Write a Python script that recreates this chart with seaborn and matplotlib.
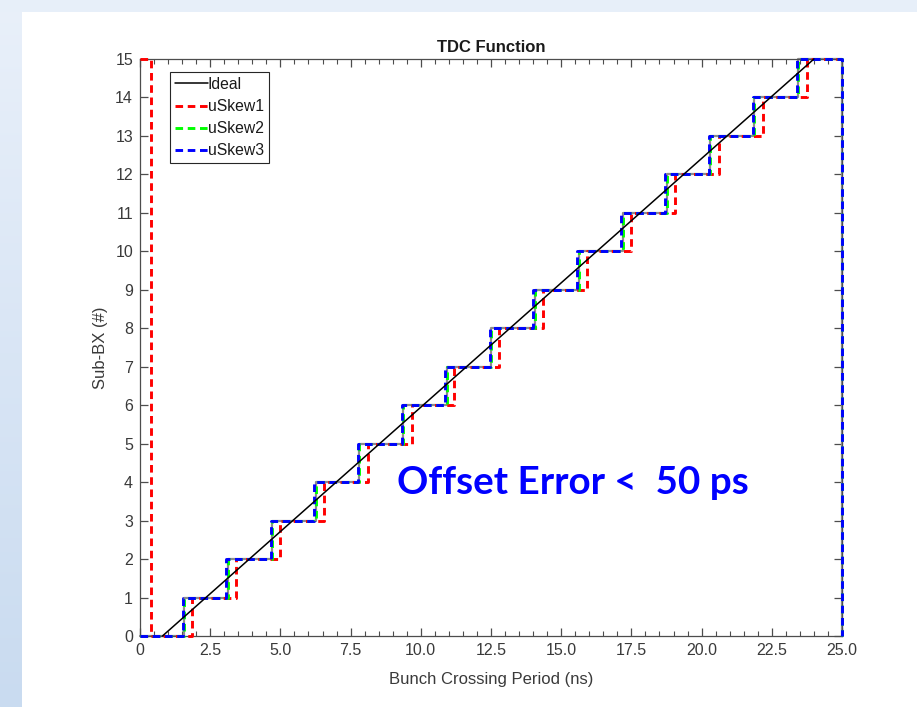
import numpy as np
import pandas as pd
import matplotlib
matplotlib.use("Agg")
import matplotlib.pyplot as plt
import seaborn as sns
from matplotlib.ticker import MultipleLocator, FixedLocator, FixedFormatter
from matplotlib.colors import LinearSegmentedColormap

# ---------------- data ----------------
levels = list(range(0, 16))  # Sub-BX codes 0..15
ideal_x = [0.80, 24.00]
ideal_y = [0, 15]
# riser positions (ns) where output goes to code 1..15
rise_ref = [1.56, 3.12, 4.69, 6.25, 7.81, 9.38, 10.94, 12.50, 14.06, 15.62, 17.19, 18.75, 20.31, 21.88, 23.44]
rise_skew1 = [1.84, 3.42, 5.00, 6.56, 8.12, 9.69, 11.20, 12.78, 14.35, 15.92, 17.48, 19.05, 20.62, 22.18, 23.74]
rise_skew2 = [1.56, 3.12, 4.69, 6.25, 7.81, 9.38, 10.93, 12.50, 14.06, 15.62, 17.19, 18.75, 20.31, 21.88, 23.42]
rise_skew3 = [1.52, 3.08, 4.65, 6.20, 7.76, 9.33, 10.87, 12.45, 14.01, 15.57, 17.14, 18.70, 20.26, 21.82, 23.40]
skew1_wrap_x = 0.39   # uSkew1 reads 15 before this, then 0
period_end = 25.0
xtick_vals = [0, 2.5, 5.0, 7.5, 10.0, 12.5, 15.0, 17.5, 20.0, 22.5, 25.0]
xtick_labels = ["0", "2.5", "5.0", "7.5", "10.0", "12.5", "15.0", "17.5", "20.0", "22.5", "25.0"]
ytick_vals = list(range(0, 16))

title_text = "TDC Function"
xlabel_text = "Bunch Crossing Period (ns)"
ylabel_text = "Sub-BX (#)"
note_text = "Offset Error <  50 ps"
legend_labels = ["Ideal", "uSkew1", "uSkew2", "uSkew3"]


def wrap_end(rises):
    x = [0.0] + rises + [period_end, period_end]
    y = [levels[0]] + levels[1:] + [levels[-1], levels[0]]
    return pd.DataFrame({"x": x, "y": y})


def wrap_start(rises):
    x = [0.0, skew1_wrap_x] + rises + [period_end]
    y = [levels[-1], levels[0]] + levels[1:] + [levels[-1]]
    return pd.DataFrame({"x": x, "y": y})


df_ref = wrap_end(rise_ref)
df_s1 = wrap_start(rise_skew1)
df_s2 = wrap_end(rise_skew2)
df_s3 = wrap_end(rise_skew3)
df_ideal = pd.DataFrame({"x": ideal_x, "y": ideal_y})

# ---------------- figure ----------------
sns.set_theme(style="white")
plt.rcParams["font.family"] = ["Liberation Sans", "DejaVu Sans"]

W, H, DPI = 917, 707, 100
fig = plt.figure(figsize=(W / DPI, H / DPI), dpi=DPI)
fig.patch.set_facecolor("#e7eff9")

# slide background: white panel + light blue gradient strip at left
bg = fig.add_axes([0, 0, 1, 1], zorder=-10)
bg.set_axis_off()
bg.add_patch(plt.Rectangle((0, 0), W, 12, color="#e7eff9", lw=0))
grad = np.linspace(0, 1, 256).reshape(-1, 1)
cm = LinearSegmentedColormap.from_list("g", ["#e9f0fa", "#c9dbf0"])
bg.imshow(grad, cmap=cm, extent=(0, 22, H, 0), aspect="auto", origin="upper")
bg.add_patch(plt.Rectangle((22, 12), W - 22, H - 12, color="white", lw=0))
bg.set_xlim(0, W)
bg.set_ylim(H, 0)

ax = fig.add_axes([140 / W, 1 - 636 / H, (842 - 140) / W, (636 - 59) / H])
ax.set_facecolor("white")

dash = (2.6, 1.6)
lw = 2.1
common = dict(estimator=None, sort=False, ax=ax, drawstyle="steps-post")
sns.lineplot(data=df_ref, x="x", y="y", color="#8c8c8c", linewidth=1.6, legend=False, **common)
sns.lineplot(data=df_s1, x="x", y="y", color="#ff0000", linewidth=lw, **common)
sns.lineplot(data=df_s2, x="x", y="y", color="#00ff00", linewidth=lw, **common)
sns.lineplot(data=df_s3, x="x", y="y", color="#0000ff", linewidth=lw, **common)
sns.lineplot(data=df_ideal, x="x", y="y", color="black", linewidth=1.1, estimator=None, sort=False, ax=ax)

lines = ax.get_lines()
for ln in lines[1:4]:
    ln.set_dashes(dash)
for i, ln in enumerate(lines):
    ln.set_clip_on(False)
    ln.set_zorder(2 + i)

ax.set_xlim(0, 25)
ax.set_ylim(0, 15)

ax.xaxis.set_major_locator(FixedLocator(xtick_vals))
ax.xaxis.set_major_formatter(FixedFormatter(xtick_labels))
ax.xaxis.set_minor_locator(MultipleLocator(0.5))
ax.yaxis.set_major_locator(FixedLocator(ytick_vals))

axis_col = "#4d4d4d"
for sp in ax.spines.values():
    sp.set_visible(True)
    sp.set_color(axis_col)
    sp.set_linewidth(0.9)
ax.tick_params(axis="both", which="both", direction="in", top=True, right=True,
               bottom=True, left=True, colors=axis_col, labelcolor="#3a3a3a")
ax.tick_params(axis="both", which="major", length=6, width=0.9, labelsize=11.5, pad=5)
ax.tick_params(axis="x", which="minor", length=3.5, width=0.8)

ax.set_title(title_text, fontsize=12, fontweight="bold", color="#1a1a1a", pad=5)
ax.set_xlabel(xlabel_text, fontsize=12, color="#3a3a3a", labelpad=10)
ax.set_ylabel(ylabel_text, fontsize=12, color="#3a3a3a", labelpad=5)

handles = [lines[4], lines[1], lines[2], lines[3]]
leg = ax.legend(handles, legend_labels, loc="upper left", bbox_to_anchor=(0.043, 0.977),
                fontsize=11.3, frameon=True, fancybox=False, framealpha=1,
                edgecolor="#262626", handlelength=2.1, handletextpad=0.0,
                borderpad=0.3, labelspacing=0.45, borderaxespad=0.0)
leg.get_frame().set_linewidth(0.8)
for t in leg.get_texts():
    t.set_color("#1a1a1a")

ax.text(9.15, 4.0, note_text, fontsize=27.8, fontweight="bold", color="#0000ff",
        family=["Lato", "DejaVu Sans"], va="center", ha="left")

fig.savefig("out.png", dpi=DPI)
